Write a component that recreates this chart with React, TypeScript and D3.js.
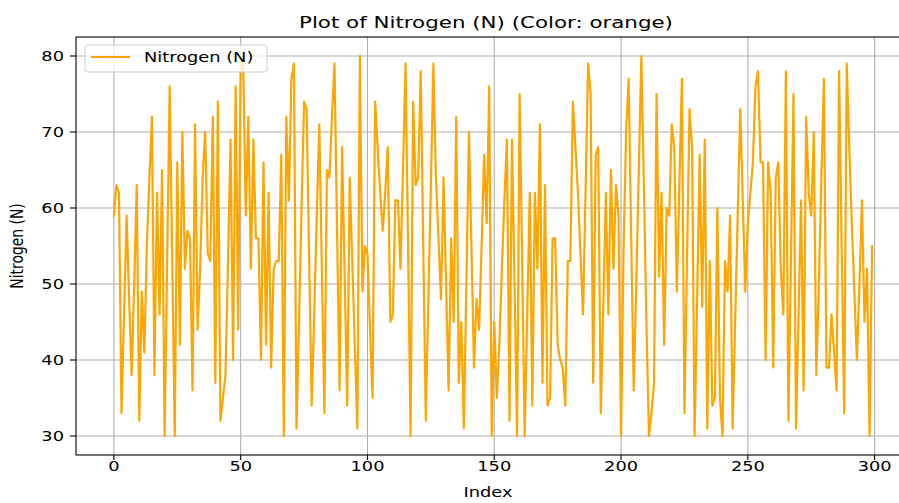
import React from "react";
import * as d3 from "d3";

const nitrogen: number[] = [
  59, 63, 62, 33, 46, 59, 48, 38, 50, 63,
  32, 49, 41, 55, 64, 72, 38, 62, 46, 65,
  30, 53, 76, 53, 30, 66, 42, 70, 52, 57,
  56, 36, 71, 44, 52, 64, 70, 54, 53, 72,
  37, 74, 32, 35, 38, 53, 69, 40, 76, 44,
  80, 79, 59, 72, 52, 69, 56, 56, 40, 66,
  42, 62, 39, 52, 53, 53, 67, 30, 72, 61,
  77, 79, 31, 45, 60, 74, 73, 53, 34, 46,
  59, 71, 52, 33, 65, 64, 72, 79, 57, 36,
  68, 51, 34, 64, 53, 42, 31, 80, 49, 55,
  54, 44, 35, 74, 68, 62, 57, 62, 68, 45,
  46, 61, 61, 52, 65, 79, 55, 30, 74, 63,
  64, 78, 55, 32, 48, 63, 79, 64, 56, 48,
  64, 50, 36, 56, 45, 72, 37, 45, 31, 50,
  70, 55, 39, 48, 44, 55, 67, 58, 76, 30,
  45, 35, 42, 52, 61, 69, 32, 69, 50, 30,
  75, 53, 30, 46, 62, 34, 62, 52, 71, 37,
  63, 34, 35, 56, 56, 42, 40, 39, 34, 53,
  53, 74, 68, 62, 54, 46, 62, 79, 75, 37,
  67, 68, 33, 47, 62, 46, 65, 52, 63, 59,
  30, 55, 70, 77, 56, 36, 50, 65, 80, 63,
  45, 30, 33, 37, 75, 51, 62, 42, 60, 59,
  71, 68, 49, 63, 77, 33, 53, 73, 68, 30,
  48, 67, 47, 69, 31, 53, 34, 35, 60, 35,
  30, 53, 49, 59, 31, 45, 59, 73, 61, 49,
  58, 62, 66, 76, 78, 66, 66, 40, 66, 62,
  39, 64, 66, 52, 46, 78, 32, 53, 75, 31,
  46, 61, 36, 72, 62, 59, 70, 38, 50, 64,
  77, 39, 39, 46, 41, 36, 78, 55, 33, 79,
  68, 58, 49, 40, 50, 61, 45, 52, 30, 55,
];

const xTicks: number[] = [0, 50, 100, 150, 200, 250, 300];
const yTicks: number[] = [30, 40, 50, 60, 70, 80];
const titleText = "Plot of Nitrogen (N) (Color: orange)";
const seriesName = "Nitrogen (N)";
const xLabel = "Index";
const yLabel = "Nitrogen (N)";

const W = 899;
const H = 503;
const L = 76;
const R = 910;
const T = 37;
const B = 455;
const SX = 1.28;
const FONT = "DejaVu Sans, sans-serif";
const FS = 13.9;

export default function App() {
  const n = nitrogen.length;
  const xPad = (n - 1) * 0.05;
  const x = d3.scaleLinear().domain([-xPad, n - 1 + xPad]).range([L, R]);
  const yMin = d3.min(nitrogen) as number;
  const yMax = d3.max(nitrogen) as number;
  const yPad = (yMax - yMin) * 0.05;
  const y = d3.scaleLinear().domain([yMin - yPad, yMax + yPad]).range([B, T]);
  const line = d3
    .line<number>()
    .x((_, i) => x(i))
    .y((d) => y(d));

  const st = (px: number, py: number) => `translate(${px},${py}) scale(${SX},1)`;

  return (
    <svg
      width={W}
      height={H}
      style={{ position: "absolute", left: 0, top: 0, background: "#fff" }}
      fontFamily={FONT}
    >
      <rect x={0} y={0} width={W} height={H} fill="#fff" />
      <defs>
        <clipPath id="plotclip">
          <rect x={L} y={T} width={R - L} height={B - T} />
        </clipPath>
      </defs>
      {/* grid */}
      {xTicks.map((t) => (
        <line key={"gx" + t} x1={x(t)} x2={x(t)} y1={T} y2={B} stroke="#b0b0b0" strokeWidth={1.1} />
      ))}
      {yTicks.map((t) => (
        <line key={"gy" + t} x1={L} x2={R} y1={y(t)} y2={y(t)} stroke="#b0b0b0" strokeWidth={1.1} />
      ))}
      {/* series */}
      <path
        d={line(nitrogen) || ""}
        fill="none"
        stroke="#FFA500"
        strokeWidth={2.2}
        strokeLinejoin="round"
        strokeLinecap="square"
        clipPath="url(#plotclip)"
      />
      {/* spines */}
      <rect x={L} y={T} width={R - L} height={B - T} fill="none" stroke="#000" strokeWidth={1.1} />
      {/* x ticks */}
      {xTicks.map((t) => (
        <g key={"tx" + t}>
          <line x1={x(t)} x2={x(t)} y1={B} y2={B + 5} stroke="#000" strokeWidth={1.1} />
          <text transform={st(x(t), B + 16)} textAnchor="middle" fontSize={FS} fill="#000">
            {t}
          </text>
        </g>
      ))}
      {/* y ticks */}
      {yTicks.map((t) => (
        <g key={"ty" + t}>
          <line x1={L - 6} x2={L} y1={y(t)} y2={y(t)} stroke="#000" strokeWidth={1.1} />
          <text transform={st(L - 12, y(t) + 5)} textAnchor="end" fontSize={FS} fill="#000">
            {t}
          </text>
        </g>
      ))}
      {/* axis labels */}
      <text transform={st((L + R) / 2 - 5, 497)} textAnchor="middle" fontSize={FS} fill="#000">
        {xLabel}
      </text>
      <text
        transform={`translate(23,${(T + B) / 2}) scale(${SX},1) rotate(-90)`}
        textAnchor="middle"
        fontSize={FS}
        fill="#000"
      >
        {yLabel}
      </text>
      {/* title */}
      <text transform={st(486, 28)} textAnchor="middle" fontSize={16.7} fill="#000">
        {titleText}
      </text>
      {/* legend */}
      <rect x={85} y={45} width={182} height={27} rx={3} fill="#fff" fillOpacity={0.8} stroke="#cccccc" strokeWidth={1} />
      <line x1={91} x2={130} y1={57} y2={57} stroke="#FFA500" strokeWidth={2.2} />
      <text transform={st(144, 62)} fontSize={FS} fill="#000">
        {seriesName}
      </text>
    </svg>
  );
}
